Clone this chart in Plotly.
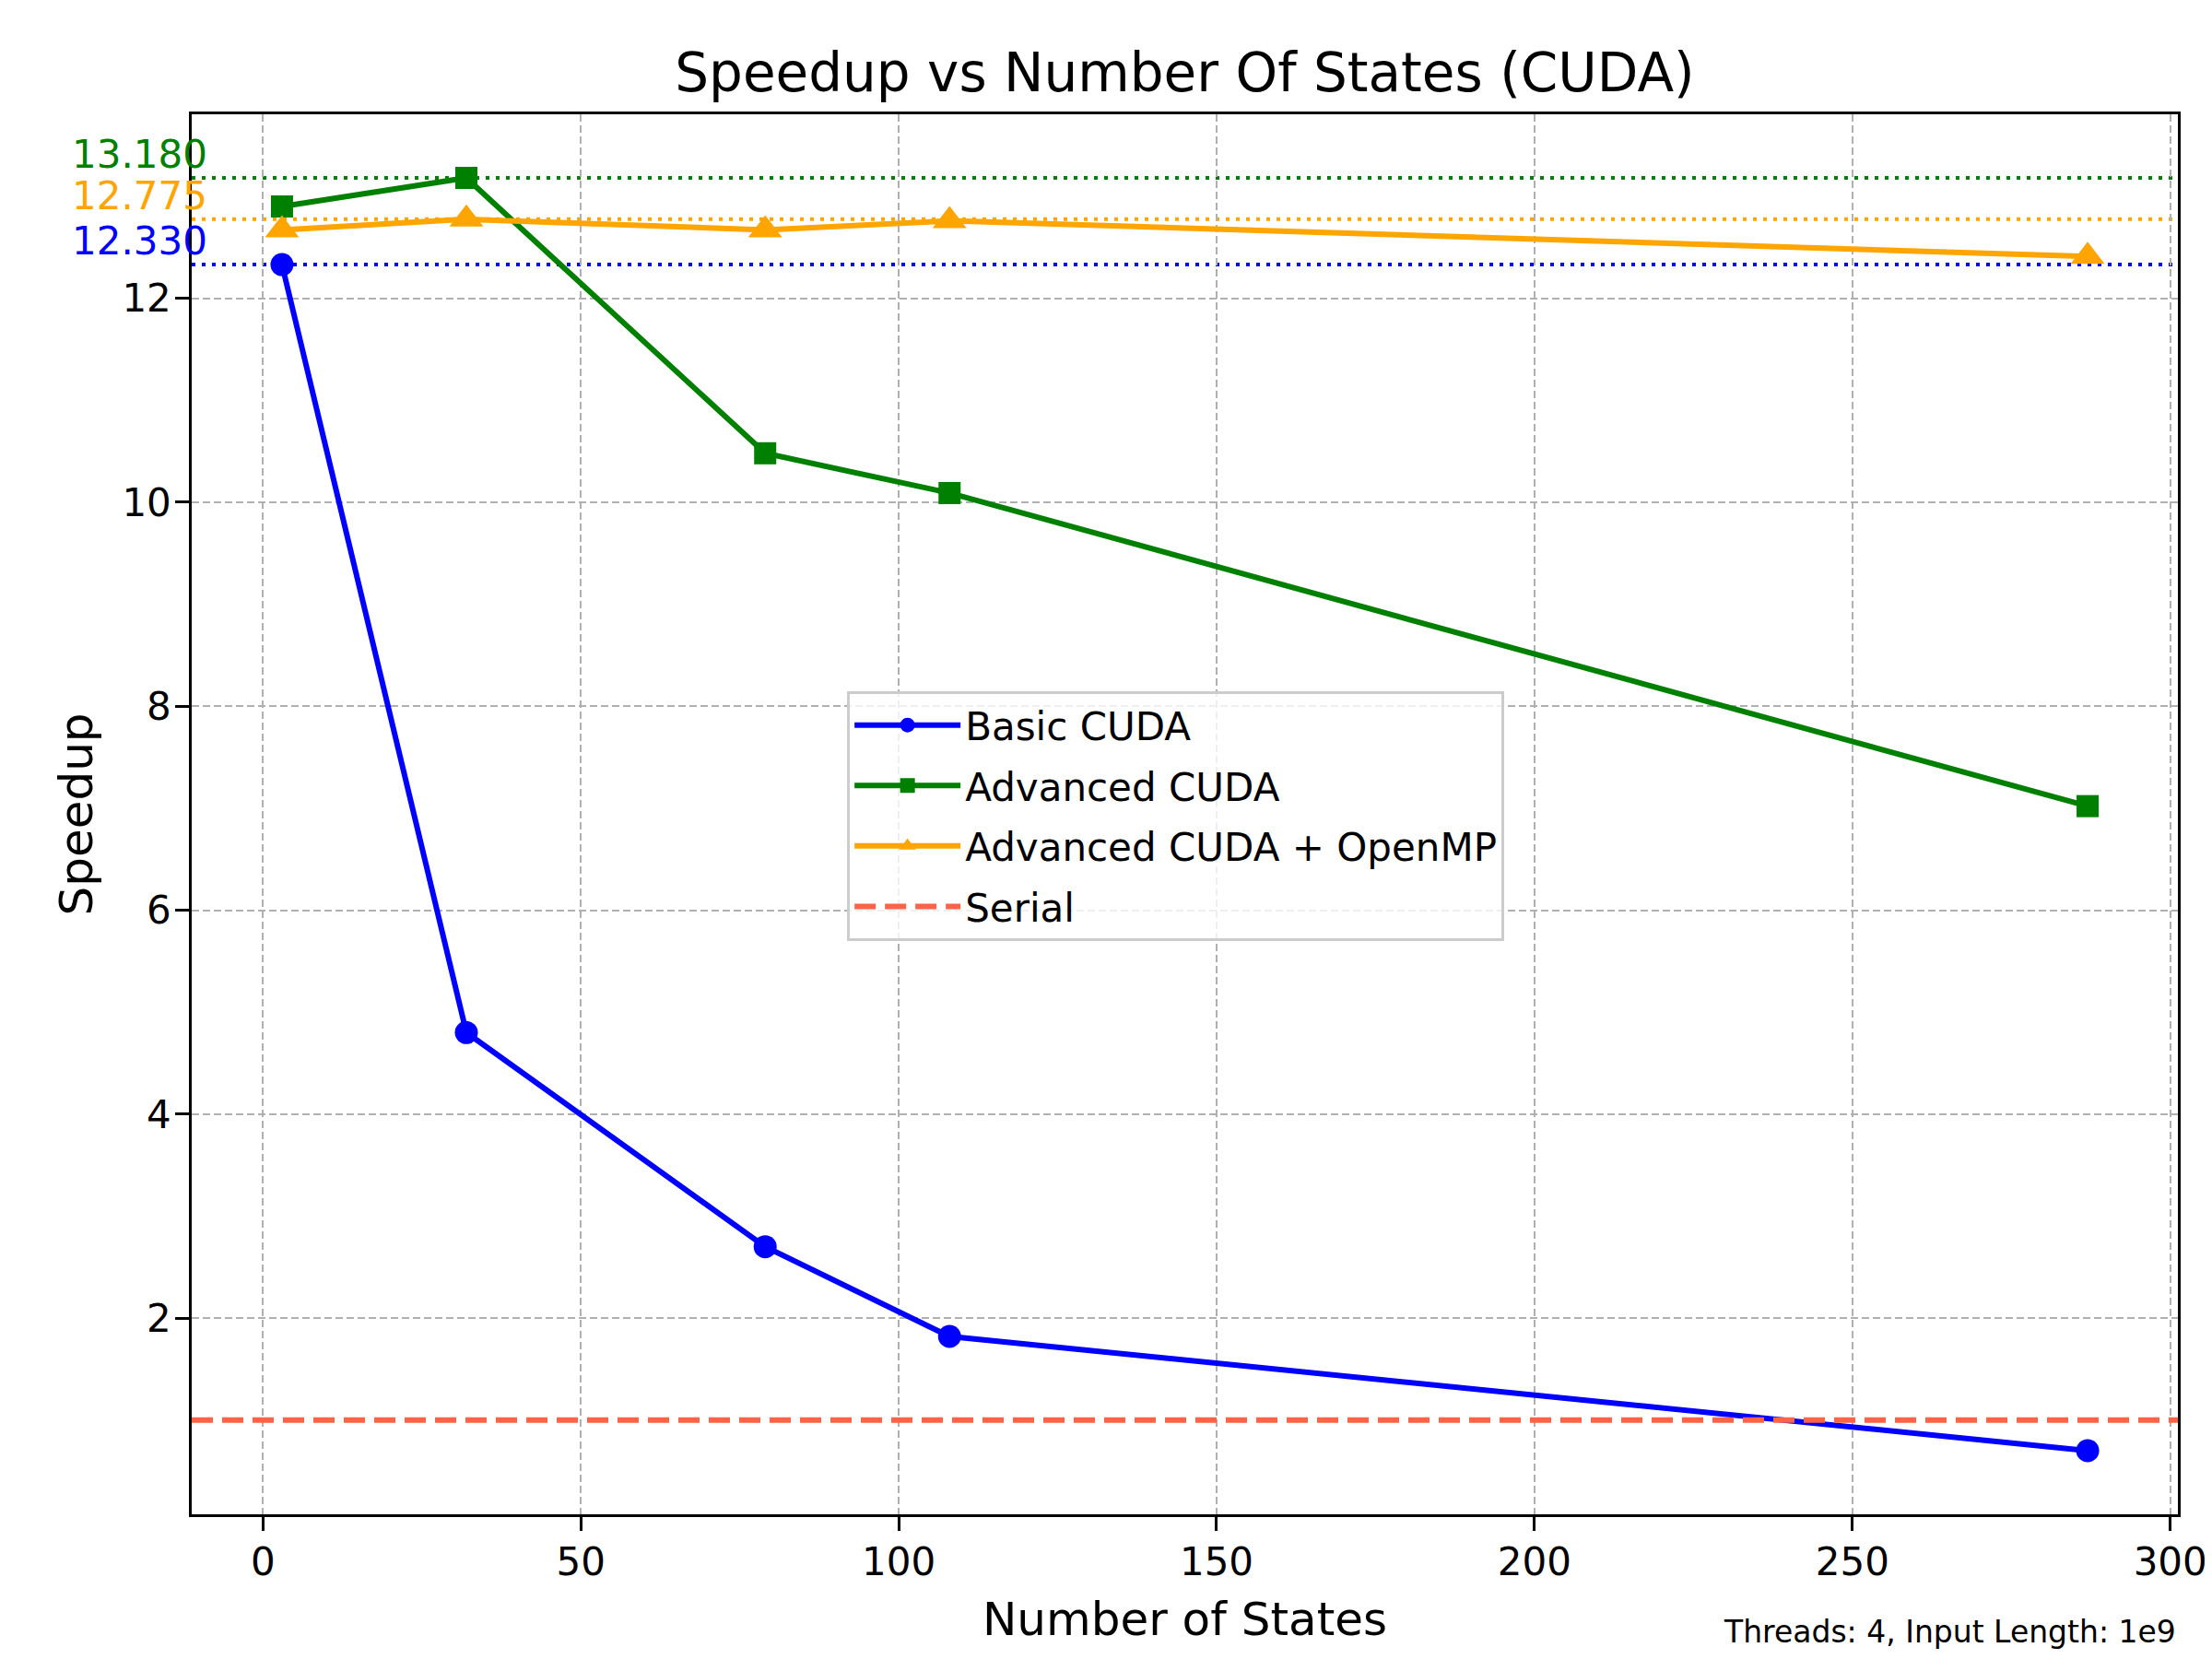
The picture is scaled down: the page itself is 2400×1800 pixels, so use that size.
import plotly.graph_objects as go

# data
num_states = [3, 32, 79, 108, 287]
basic_cuda = [12.33, 4.80, 2.70, 1.82, 0.70]
advanced_cuda = [12.90, 13.18, 10.48, 10.09, 7.02]
advanced_omp = [12.67, 12.775, 12.67, 12.76, 12.41]
serial_speedup = 1.0

series = [
    ("Basic CUDA", basic_cuda, "#0000ff", "circle", 25),
    ("Advanced CUDA", advanced_cuda, "#008000", "square", 24),
    ("Advanced CUDA + OpenMP", advanced_omp, "#ffa500", "triangle-up", 32),
]

FONT = "DejaVu Sans"

# matplotlib-like 5% margins
xmin, xmax = min(num_states), max(num_states)
xpad = (xmax - xmin) * 0.05
xr = [xmin - xpad, xmax + xpad]
all_y = basic_cuda + advanced_cuda + advanced_omp
ymin, ymax = min(all_y), max(all_y)
ypad = (ymax - ymin) * 0.05
yr = [ymin - ypad, ymax + ypad]

fig = go.Figure()

for name, vals, color, sym, msize in series:
    fig.add_trace(go.Scatter(
        x=num_states, y=vals, name=name, mode="lines+markers", legendgroup=name,
        line=dict(color=color, width=6),
        marker=dict(symbol=sym, size=msize, color=color),
    ))

fig.add_trace(go.Scatter(
    x=xr, y=[serial_speedup, serial_speedup], name="Serial", mode="lines",
    legendgroup="Serial",
    line=dict(color="#ff6347", width=6, dash="23px,10px"),
))

# max value reference lines + labels
for name, vals, color, sym, msize in series:
    m = max(vals)
    fig.add_shape(type="line", xref="paper", x0=0, x1=1, yref="y", y0=m, y1=m,
                  line=dict(color=color, width=4, dash="4px,7px"), layer="below")
    fig.add_annotation(text=f"{m:.3f}", xref="paper", x=-0.061, xanchor="left",
                       yref="y", y=m, yanchor="bottom", showarrow=False,
                       font=dict(family=FONT, size=42, color=color), borderpad=0)

fig.add_annotation(text="Threads: 4, Input Length: 1e9", xref="paper", x=1.0,
                   xanchor="right", yref="paper", y=-0.084, yanchor="middle",
                   showarrow=False, font=dict(family=FONT, size=33, color="black"))

axis_common = dict(
    showline=True, linecolor="black", linewidth=3.3, mirror=True,
    ticks="outside", ticklen=14.6, tickwidth=3.3, tickcolor="black",
    showgrid=True, gridcolor="#b0b0b0", gridwidth=2, griddash="8px,4px",
    zeroline=False, tickfont=dict(family=FONT, size=42, color="black"),
)

fig.update_layout(
    width=2400, height=1800,
    paper_bgcolor="white", plot_bgcolor="white",
    margin=dict(l=200, r=45, t=116, b=165),
    font=dict(family=FONT, color="black"),
    title=dict(text="Speedup vs Number Of States (CUDA)", x=0.5, xref="paper",
               y=1 - 71 / 1800, yref="container", xanchor="center", yanchor="middle",
               font=dict(family=FONT, size=58, color="black")),
    xaxis=dict(range=xr, tickvals=[0, 50, 100, 150, 200, 250, 300], ticklabelstandoff=-2,
               title=dict(text="Number of States", font=dict(family=FONT, size=50), standoff=21),
               **axis_common),
    yaxis=dict(range=yr, tickvals=[2, 4, 6, 8, 10, 12], ticklabelstandoff=-4,
               title=dict(text="Speedup", font=dict(family=FONT, size=50), standoff=16),
               **axis_common),
    legend=dict(x=0.330, y=0.588, xanchor="left", yanchor="top",
                bgcolor="rgba(255,255,255,0.8)", bordercolor="#cccccc", borderwidth=3,
                font=dict(family=FONT, size=42, color="black"),
                tracegroupgap=8, itemwidth=115),
    showlegend=True,
)

fig.write_html("out.html")
